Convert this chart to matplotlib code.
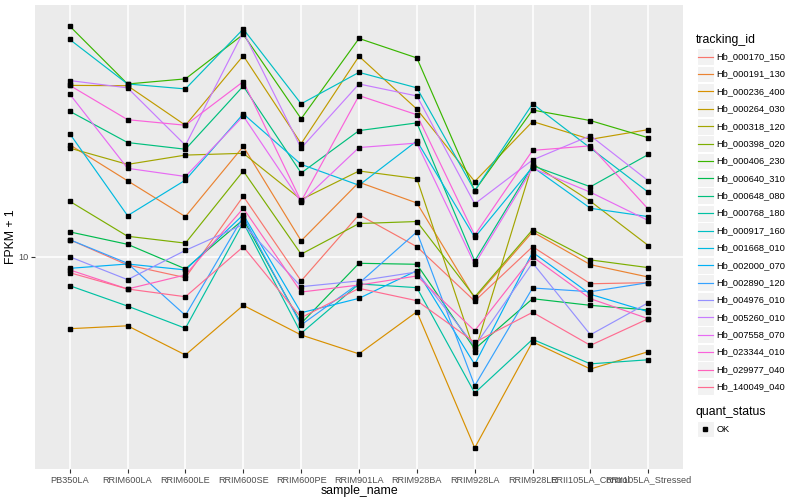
import numpy as np
import matplotlib
matplotlib.use("Agg")
import matplotlib.pyplot as plt
from matplotlib.patches import Rectangle
from matplotlib.ticker import NullLocator, FixedLocator

plt.rcParams['font.family'] = ['Liberation Sans', 'DejaVu Sans']

samples = ["PB350LA", "RRIM600LA", "RRIM600LE", "RRIM600SE", "RRIM600PE",
           "RRIM901LA", "RRIM928BA", "RRIM928LA", "RRIM928LE",
           "RRII105LA_Control", "RRII105LA_Stressed"]

tracking_ids = ["Hb_000170_150", "Hb_000191_130", "Hb_000236_400", "Hb_000264_030",
                "Hb_000318_120", "Hb_000398_020", "Hb_000406_230", "Hb_000640_310",
                "Hb_000648_080", "Hb_000768_180", "Hb_000917_160", "Hb_001668_010",
                "Hb_002000_070", "Hb_002890_120", "Hb_004976_010", "Hb_005260_010",
                "Hb_007558_070", "Hb_023344_010", "Hb_029977_040", "Hb_140049_040"]

# FPKM + 1 values, one list per tracking_id (order = samples)
hb_000170_150 = [11.4, 9.39, 8.52, 15.9, 8.31, 13.8, 10.8, 7.12, 10.8, 8.13, 8.20]
hb_000191_130 = [23.6, 17.9, 13.6, 23.3, 11.3, 17.7, 15.1, 7.27, 12.1, 9.41, 8.56]
hb_000236_400 = [5.76, 5.89, 4.71, 6.89, 5.49, 4.75, 6.56, 2.31, 5.21, 4.23, 4.83]
hb_000264_030 = [37.2, 37.1, 27.4, 46.7, 23.8, 46.5, 31.0, 17.8, 28.2, 24.6, 26.5]
hb_000318_120 = [23.0, 20.3, 21.8, 22.1, 15.5, 19.3, 18.2, 4.82, 20.4, 15.3, 10.9]
hb_000398_020 = [15.3, 11.7, 11.1, 19.3, 10.2, 12.9, 13.1, 7.35, 12.3, 9.76, 9.20]
hb_000406_230 = [58.6, 37.6, 39.1, 55.0, 28.8, 53.3, 45.9, 16.6, 30.8, 28.4, 24.9]
hb_000640_310 = [12.1, 11.0, 9.11, 13.3, 6.00, 9.51, 9.44, 4.93, 7.25, 6.89, 6.65]
hb_000648_080 = [30.5, 24.0, 22.8, 37.0, 19.0, 26.3, 27.9, 9.68, 20.1, 17.1, 21.9]
hb_000768_180 = [8.01, 6.85, 5.78, 13.0, 5.56, 8.12, 7.89, 3.52, 5.31, 4.40, 4.54]
hb_000917_160 = [52.9, 37.6, 36.2, 57.3, 32.3, 41.1, 36.5, 16.6, 32.3, 23.0, 16.4]
hb_001668_010 = [25.7, 13.7, 18.0, 29.9, 20.3, 17.3, 24.3, 11.6, 19.9, 14.5, 13.6]
hb_002000_070 = [9.15, 9.46, 9.04, 13.8, 6.51, 7.27, 8.99, 4.38, 10.35, 7.50, 6.56]
hb_002890_120 = [11.4, 9.51, 6.38, 13.6, 5.93, 8.16, 12.1, 3.72, 7.87, 7.65, 8.20]
hb_004976_010 = [10.0, 8.39, 10.5, 12.8, 7.95, 8.31, 8.90, 5.04, 9.54, 5.50, 7.03]
hb_005260_010 = [38.6, 36.5, 23.5, 56.0, 23.0, 37.6, 34.3, 15.0, 21.0, 25.3, 17.9]
hb_007558_070 = [34.8, 19.7, 18.5, 29.4, 15.2, 23.1, 23.9, 9.44, 19.7, 16.4, 13.2]
hb_023344_010 = [37.2, 28.6, 27.4, 38.3, 15.3, 34.4, 29.7, 11.8, 22.6, 23.4, 14.4]
hb_029977_040 = [9.04, 7.81, 8.70, 14.5, 7.63, 8.05, 8.63, 5.67, 10.0, 7.25, 6.22]
hb_140049_040 = [8.85, 7.81, 7.36, 10.8, 6.27, 7.85, 7.14, 5.19, 6.53, 5.07, 6.22]

series = [hb_000170_150, hb_000191_130, hb_000236_400, hb_000264_030, hb_000318_120,
          hb_000398_020, hb_000406_230, hb_000640_310, hb_000648_080, hb_000768_180,
          hb_000917_160, hb_001668_010, hb_002000_070, hb_002890_120, hb_004976_010,
          hb_005260_010, hb_007558_070, hb_023344_010, hb_029977_040, hb_140049_040]

colors = ["#F8766D", "#EA8331", "#D89000", "#C09B00", "#A3A500", "#7CAE00", "#39B600",
          "#00BB4E", "#00BF7D", "#00C1A3", "#00BFC4", "#00BAE0", "#00B0F6", "#35A2FF",
          "#9590FF", "#C77CFF", "#E76BF3", "#FA62DB", "#FF62BC", "#FF6C91"]

W, H = 800, 500
fig = plt.figure(figsize=(8, 5), dpi=100)
fig.patch.set_facecolor('white')
pl, pr, pt, pb = 35, 683, 5, 469
ax = fig.add_axes([pl / W, 1 - pb / H, (pr - pl) / W, (pb - pt) / H])
ax.set_facecolor('#EBEBEB')
for s in ax.spines.values():
    s.set_visible(False)
ax.set_yscale('log')

x = np.arange(len(samples))
for vals, col in zip(series, colors):
    ax.plot(x, vals, color=col, lw=0.85, zorder=2, solid_capstyle='butt')
for vals in series:
    ax.plot(x, vals, linestyle='none', marker='s', color='black', ms=2.3, zorder=3)

ax.set_xlim(-0.6, len(samples) - 0.4)
allv = np.log10(np.concatenate([np.asarray(v) for v in series]))
lo, hi = allv.min(), allv.max()
pad = 0.05 * (hi - lo)
ax.set_ylim(10 ** (lo - pad), 10 ** (hi + pad))

ax.set_xticks(x)
ax.set_xticklabels(samples)
ax.yaxis.set_major_locator(FixedLocator([10]))
ax.set_yticklabels(['10'])
ax.yaxis.set_minor_locator(NullLocator())
ax.xaxis.set_minor_locator(NullLocator())
ax.grid(True, which='major', color='white', lw=1.1)
ax.set_axisbelow(True)
ax.tick_params(length=2.7, width=0.8, color='#333333', labelsize=6.6,
               labelcolor='#4D4D4D', pad=2)
ax.set_xlabel('sample_name', fontsize=8.8, color='black', labelpad=0.5)
ax.set_ylabel('FPKM + 1', fontsize=8.8, color='black', labelpad=1)

# legend drawn in pixel coordinates
lax = fig.add_axes([0, 0, 1, 1])
lax.set_xlim(0, W)
lax.set_ylim(H, 0)
lax.axis('off')
lax.patch.set_alpha(0)

lax.text(696, 40.5, 'tracking_id', fontsize=8.8, va='center', ha='left')
y0, dy = 56.7, 17.38
for i, (tid, col) in enumerate(zip(tracking_ids, colors)):
    yy = y0 + i * dy
    lax.add_patch(Rectangle((696.5, yy - 8.4), 17, 16.8, fc='#F2F2F2', ec='white', lw=0.8))
    lax.plot([698, 712.5], [yy, yy], color=col, lw=0.85)
    lax.text(716.5, yy, tid, fontsize=6.7, va='center', ha='left')

lax.text(696, 412.3, 'quant_status', fontsize=8.8, va='center', ha='left')
lax.add_patch(Rectangle((696.5, 429 - 8.4), 17, 16.8, fc='#F2F2F2', ec='white', lw=0.8))
lax.plot([705], [429], marker='s', color='black', ms=2.3, linestyle='none')
lax.text(716.5, 429, 'OK', fontsize=6.7, va='center', ha='left')

fig.savefig('out.png', dpi=100)
